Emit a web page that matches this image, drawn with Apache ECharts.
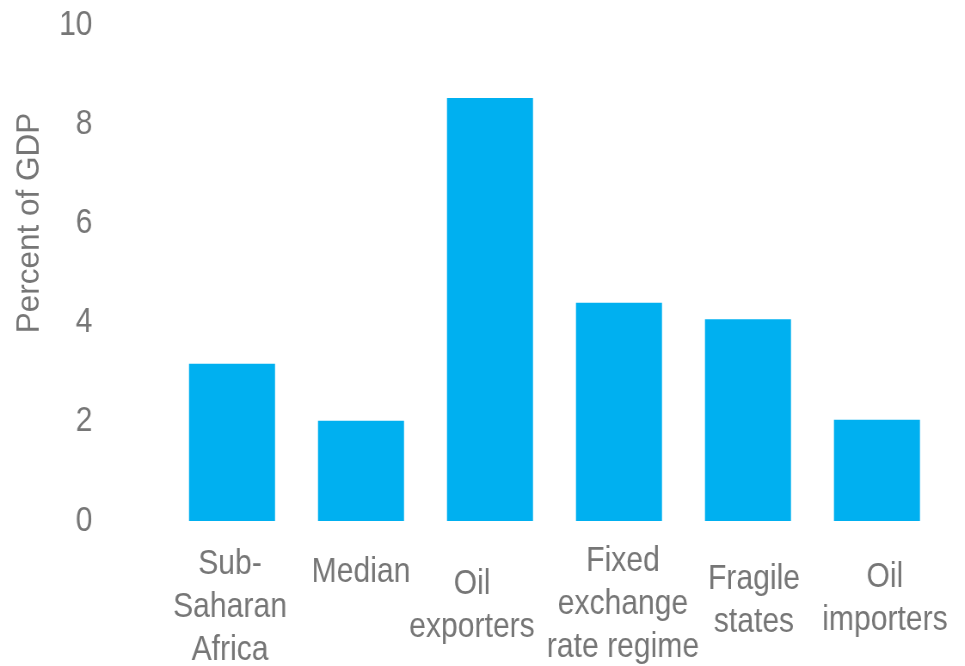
<!DOCTYPE html>
<html>
<head>
<meta charset="utf-8">
<script src="https://cdn.jsdelivr.net/npm/echarts@6/dist/echarts.min.js"></script>
<style>
  html, body { margin: 0; padding: 0; background: #ffffff; overflow: hidden; }
  #frame { width: 965px; height: 666px; overflow: hidden; }
  /* The chart is laid out wider and squeezed horizontally, giving condensed lettering */
  #chart { height: 666px; transform-origin: 0 0; }
</style>
</head>
<body>
<div id="frame"><div id="chart"></div></div>
<script>
// Fiscal groups and their values (percent of GDP)
const categories = [
  'Sub-\nSaharan\nAfrica',
  'Median',
  'Oil\nexporters',
  'Fixed\nexchange\nrate regime',
  'Fragile\nstates',
  'Oil\nimporters'
];
const values = [3.17, 2.02, 8.53, 4.40, 4.07, 2.04];
// Per-label nudges: extra drop below the axis, and sideways shift from the bar centre
const labelDrop = [3, 11, 23, 0, 18, 16];
const labelShift = [-2, 0, -18, 4, 6, 8];
const yTicks = { min: 0, max: 10, interval: 2 };
const yTitle = 'Percent of GDP';

const SQUEEZE = 0.86;            // horizontal condensing factor
const WIDTH = 965, HEIGHT = 666;
const px = v => v / SQUEEZE;     // horizontal length before squeezing

const FONT = "'Liberation Sans Narrow', 'Arial Narrow', 'Liberation Sans', Arial, sans-serif";
const GREY = '#767676';

const el = document.getElementById('chart');
el.style.width = px(WIDTH) + 'px';
el.style.transform = 'scaleX(' + SQUEEZE + ')';

const chart = echarts.init(el, null, { renderer: 'canvas' });

// Centred labels move by half of any one-sided padding
function labelPadding(i) {
  const d = px(labelShift[i]) * 2;
  return [labelDrop[i], d < 0 ? -d : 0, 0, d > 0 ? d : 0];
}

chart.setOption({
  backgroundColor: '#ffffff',
  animation: false,
  grid: {
    left: px(167.5), right: px(23.5), top: 25, bottom: 145,
    containLabel: false,
    outerBoundsMode: 'none'
  },
  xAxis: {
    type: 'category',
    data: categories.map((c, i) => ({
      value: c,
      textStyle: { padding: labelPadding(i) }
    })),
    axisLine: { show: false },
    axisTick: { show: false },
    axisLabel: {
      interval: 0,
      color: GREY,
      fontFamily: FONT,
      fontSize: 35,
      lineHeight: 43,
      margin: 19,
      verticalAlign: 'top'
    }
  },
  yAxis: {
    type: 'value',
    min: yTicks.min,
    max: yTicks.max,
    interval: yTicks.interval,
    axisLine: { show: false },
    axisTick: { show: false },
    splitLine: { show: false },
    axisLabel: {
      color: GREY,
      fontFamily: FONT,
      fontSize: 35,
      margin: px(75)
    }
  },
  // Vertical axis title, kept at normal width while the rest is condensed
  graphic: [{
    type: 'text',
    x: px(30),
    y: 223,
    rotation: Math.PI / 2,
    scaleX: 1,
    scaleY: 1 / SQUEEZE,
    style: {
      text: yTitle,
      fill: GREY,
      font: "31.5px 'Liberation Sans', Arial, sans-serif",
      align: 'center',
      verticalAlign: 'middle'
    }
  }],
  series: [{
    type: 'bar',
    data: values,
    barWidth: px(86),
    itemStyle: { color: '#00B0F0' }
  }]
});
</script>
</body>
</html>
